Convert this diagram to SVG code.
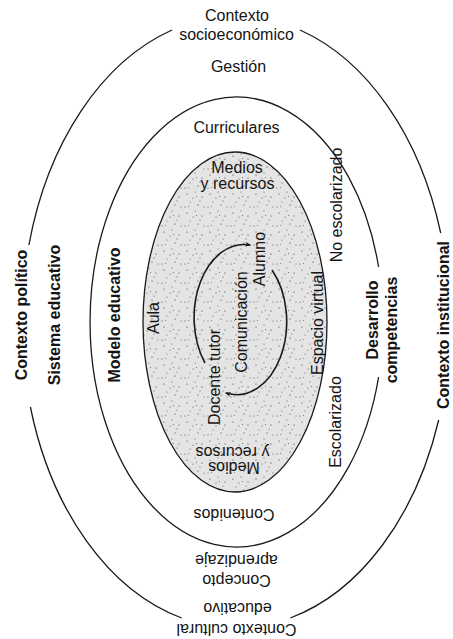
<svg xmlns="http://www.w3.org/2000/svg" width="453" height="639" viewBox="0 0 453 639">
<style>
text{font-family:"Liberation Sans",Arial,sans-serif;fill:#141414;font-size:16px;text-anchor:middle}
.b{font-weight:bold}
.ring{fill:none;stroke:#1a1a1a;stroke-width:1.3}
.arr{fill:none;stroke:#1a1a1a;stroke-width:1.6;marker-end:url(#ah)}
</style>
<defs>
<pattern id="stip" width="23" height="19" patternUnits="userSpaceOnUse">
<rect width="23" height="19" fill="#e4e4e4"/>
<circle cx="3" cy="4" r="0.6" fill="#333"/>
<circle cx="11" cy="2" r="0.5" fill="#444"/>
<circle cx="18" cy="7" r="0.6" fill="#333"/>
<circle cx="6" cy="12" r="0.5" fill="#555"/>
<circle cx="14" cy="15" r="0.6" fill="#333"/>
<circle cx="20" cy="17" r="0.5" fill="#444"/>
<circle cx="9" cy="8" r="0.6" fill="#555"/>
<circle cx="1" cy="17" r="0.5" fill="#333"/>
<circle cx="16" cy="11" r="0.5" fill="#444"/>
<rect x="12" y="6" width="1" height="1" fill="#777"/>
<rect x="4" y="16" width="1" height="1" fill="#888"/>
</pattern>
<marker id="ah" viewBox="0 0 10 10" refX="8" refY="5" markerWidth="6" markerHeight="6" orient="auto" markerUnits="userSpaceOnUse">
<path d="M0,1 L10,5 L0,9 L3,5 Z" fill="#1a1a1a"/>
</marker>
</defs>

<g id="rings">
<g id="outer-ring">
<path class="ring" d="M172 30 A214 306 0 0 0 28.9 245"/>
<path class="ring" d="M30.4 407 A214 306 0 0 0 181.7 618"/>
<path class="ring" d="M290.3 618 A214 306 0 0 0 438.7 420"/>
<path class="ring" d="M440.7 233 A214 306 0 0 0 300 30"/>
</g>
<g id="middle-ring">
<path class="ring" d="M378.6 267 A146.5 225 0 1 0 378.6 377"/>
</g>
<g id="inner-ring">
<ellipse cx="235" cy="322" rx="92" ry="170" fill="url(#stip)" stroke="#1a1a1a" stroke-width="1.3"/>
</g>
</g>

<g id="connectors">
<path class="arr" d="M205 363 A50 73 0 0 1 250 245"/>
<path class="arr" d="M272 270 A50 73 0 0 1 226 393"/>
</g>

<g id="outer-labels">
<g id="contexto-socioeconomico"><text x="237" y="21">Contexto</text><text x="236.5" y="40">socioeconómico</text></g>
<g id="contexto-politico"><text class="b" transform="translate(27 315) rotate(-90)">Contexto político</text></g>
<g id="contexto-institucional"><text class="b" transform="translate(449 325) rotate(-90)">Contexto institucional</text></g>
<g id="contexto-cultural"><text transform="translate(236.5 624) rotate(180)">Contexto cultural</text><text transform="translate(237.5 603) rotate(180)">educativo</text></g>
</g>

<g id="middle-labels">
<g id="gestion"><text x="238.5" y="72">Gestión</text></g>
<g id="sistema-educativo"><text class="b" font-size="15.5" transform="translate(60 315) rotate(-90)">Sistema educativo</text></g>
<g id="desarrollo-competencias"><text class="b" font-size="18.5" transform="translate(378 320) rotate(-90)">Desarrollo</text><text class="b" font-size="18.5" transform="translate(397 330) rotate(-90)">competencias</text></g>
<g id="concepto-aprendizaje"><text transform="translate(236.5 575) rotate(180)">Concepto</text><text transform="translate(236.5 555) rotate(180)">aprendizaje</text></g>
</g>

<g id="inner-labels">
<g id="curriculares"><text x="236.5" y="133">Curriculares</text></g>
<g id="modelo-educativo"><text class="b" transform="translate(120 315) rotate(-90)">Modelo educativo</text></g>
<g id="no-escolarizado"><text transform="translate(342 205) rotate(-90)">No escolarizado</text></g>
<g id="escolarizado"><text transform="translate(341 422) rotate(-90)">Escolarizado</text></g>
<g id="contenidos"><text transform="translate(234 509) rotate(180)">Contenidos</text></g>
</g>

<g id="core-labels">
<g id="medios-top"><text x="237" y="173">Medios</text><text x="237.5" y="189">y recursos</text></g>
<g id="aula"><text font-size="16.5" transform="translate(159 318) rotate(-90)">Aula</text></g>
<g id="espacio-virtual"><text transform="translate(323 323) rotate(-90)">Espacio virtual</text></g>
<g id="docente-tutor"><text font-size="15" transform="translate(220 377) rotate(-90)">Docente tutor</text></g>
<g id="comunicacion"><text font-size="16.5" transform="translate(247 322) rotate(-90)">Comunicación</text></g>
<g id="alumno"><text font-size="15" transform="translate(265 259) rotate(-90)">Alumno</text></g>
<g id="medios-bottom"><text transform="translate(234 462) rotate(180)">Medios</text><text transform="translate(232.5 447) rotate(180)">y recursos</text></g>
</g>
</svg>
